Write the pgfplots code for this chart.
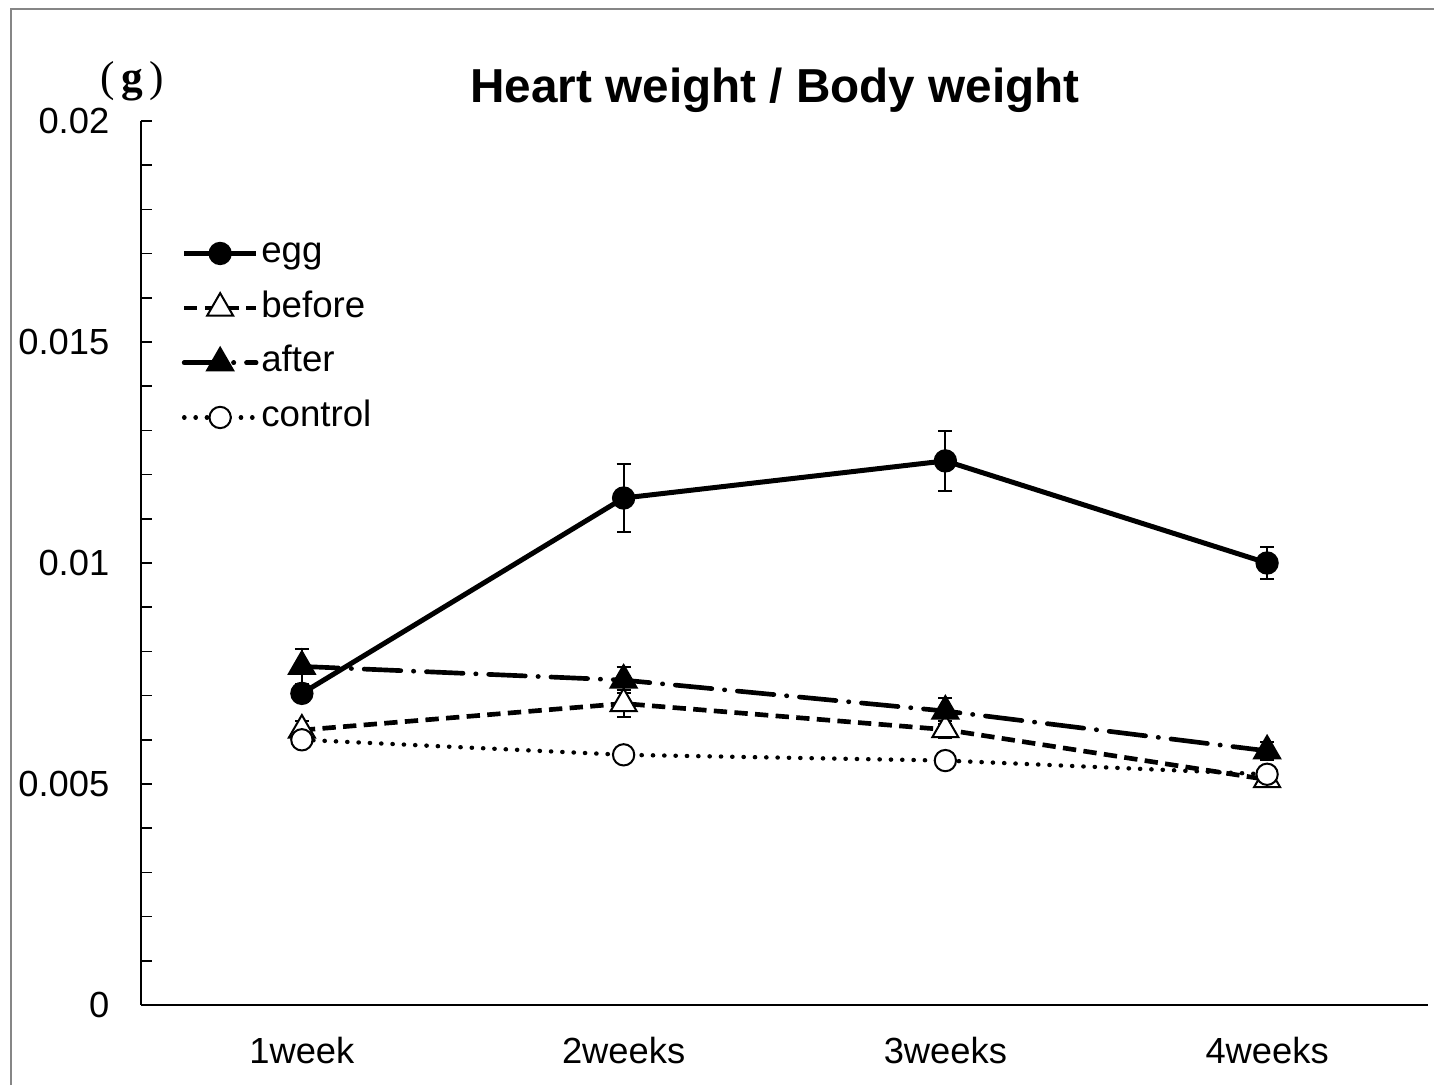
\documentclass[border=0pt]{standalone}
\usepackage{fontspec}
\setmainfont{Liberation Sans}
\newfontfamily\gfont{Liberation Serif}
\usepackage{pgfplots}
\pgfplotsset{compat=1.18}
\usepackage{pgfplotstable}
\definecolor{framegray}{RGB}{134,134,134}

\pgfplotstableread{
x y e
1 0.00705 0.0002
2 0.01147 0.00076
3 0.01231 0.00068
4 0.01000 0.00036
}\egg
\pgfplotstableread{
x y e
1 0.00622 0.0002
2 0.00682 0.0003
3 0.00623 0.0002
4 0.00510 0.0001
}\before
\pgfplotstableread{
x y e
1 0.00766 0.0004
2 0.00735 0.0003
3 0.00665 0.0003
4 0.00575 0.0002
}\after
\pgfplotstableread{
x y e
1 0.00600 0.0001
2 0.00566 0.0001
3 0.00553 0.0001
4 0.00522 0.0001
}\control

\begin{document}
\begin{tikzpicture}
\begin{axis}[
  at={(0,0)}, anchor=south west,
  scale only axis, width=386.1pt, height=265.2pt,
  xmin=0.5, xmax=4.5, ymin=0, ymax=0.02,
  axis x line*=bottom, axis y line*=left,
  axis line style={line width=0.7pt, -, black},
  xtick={1,2,3,4}, xticklabels={1week,2weeks,3weeks,4weeks},
  x tick style={draw=none},
  ytick={0,0.005,0.01,0.015,0.02},
  scaled y ticks=false,
  /pgf/number format/assume math mode=true,
  yticklabel style={/pgf/number format/fixed, /pgf/number format/precision=3, xshift=-6pt},
  minor tick num=4,
  tick align=inside, major tick length=3.3pt, minor tick length=3.3pt,
  y tick style={line width=0.5pt, black},
  minor y tick style={line width=0.5pt, black},
  ticklabel style={font=\fontsize{10.9}{13}\selectfont},
  xticklabel style={yshift=-6pt},
  legend style={draw=none, fill=none, at={(0.0233,0.882)}, anchor=north west,
    font=\fontsize{11}{13}\selectfont, row sep=3.9pt,
    nodes={inner xsep=0.8pt, inner ysep=1pt, text height=8pt, text depth=2.5pt}},
  legend cell align=left,
  legend image code/.code={\draw[mark repeat=2,mark phase=2,#1] plot coordinates {(0pt,0pt) (10.8pt,0pt) (21.6pt,0pt)};},
  error bars/error bar style={line width=0.6pt, solid, black},
  error bars/error mark options={rotate=90, mark size=2.1pt, line width=0.6pt, solid, black},
]
\addplot[black, line width=1.5pt, solid, mark=*, mark size=3.2pt, mark options={solid, fill=black, line width=0.6pt},
  error bars/.cd, y dir=both, y explicit]
  table[x=x, y=y, y error=e] {\egg};
\addlegendentry{egg}
\addplot[black, line width=1.4pt, dash pattern=on 4pt off 2.2pt, mark=triangle*, mark size=4.5pt,
  mark options={solid, fill=white, line width=0.6pt},
  error bars/.cd, y dir=both, y explicit]
  table[x=x, y=y, y error=e] {\before};
\addlegendentry{before}
\addplot[black, line width=1.4pt, line cap=round, dash pattern=on 11pt off 3.8pt on 0.1pt off 3.8pt, mark=triangle*, mark size=4.5pt,
  mark options={solid, fill=black, line width=0.6pt},
  error bars/.cd, y dir=both, y explicit]
  table[x=x, y=y, y error=e] {\after};
\addlegendentry{after}
\addplot[black, line width=1.3pt, line cap=round, dash pattern=on 0.1pt off 3.3pt, mark=*, mark size=3.2pt,
  mark options={solid, fill=white, line width=0.6pt},
  error bars/.cd, y dir=both, y explicit]
  table[x=x, y=y, y error=e] {\control};
\addlegendentry{control}
\end{axis}
\begin{scope}[shift={(-42.3pt,301.5pt)}, x=0.3pt, y=-0.3pt]
  \draw[framegray, line width=0.6pt] (11,1085) -- (11,9) -- (1434,9);
  \node[font=\bfseries\fontsize{14.3}{17}\selectfont] at (775,90) {Heart weight / Body weight};
  \node[font=\gfont\fontsize{13}{15}\selectfont] at (132,81) {(\hspace{0.15em}\textbf{g}\hspace{0.15em})};
  \pgfresetboundingbox
  \useasboundingbox (0,0) rectangle (1434,1085);
\end{scope}
\end{tikzpicture}
\end{document}
